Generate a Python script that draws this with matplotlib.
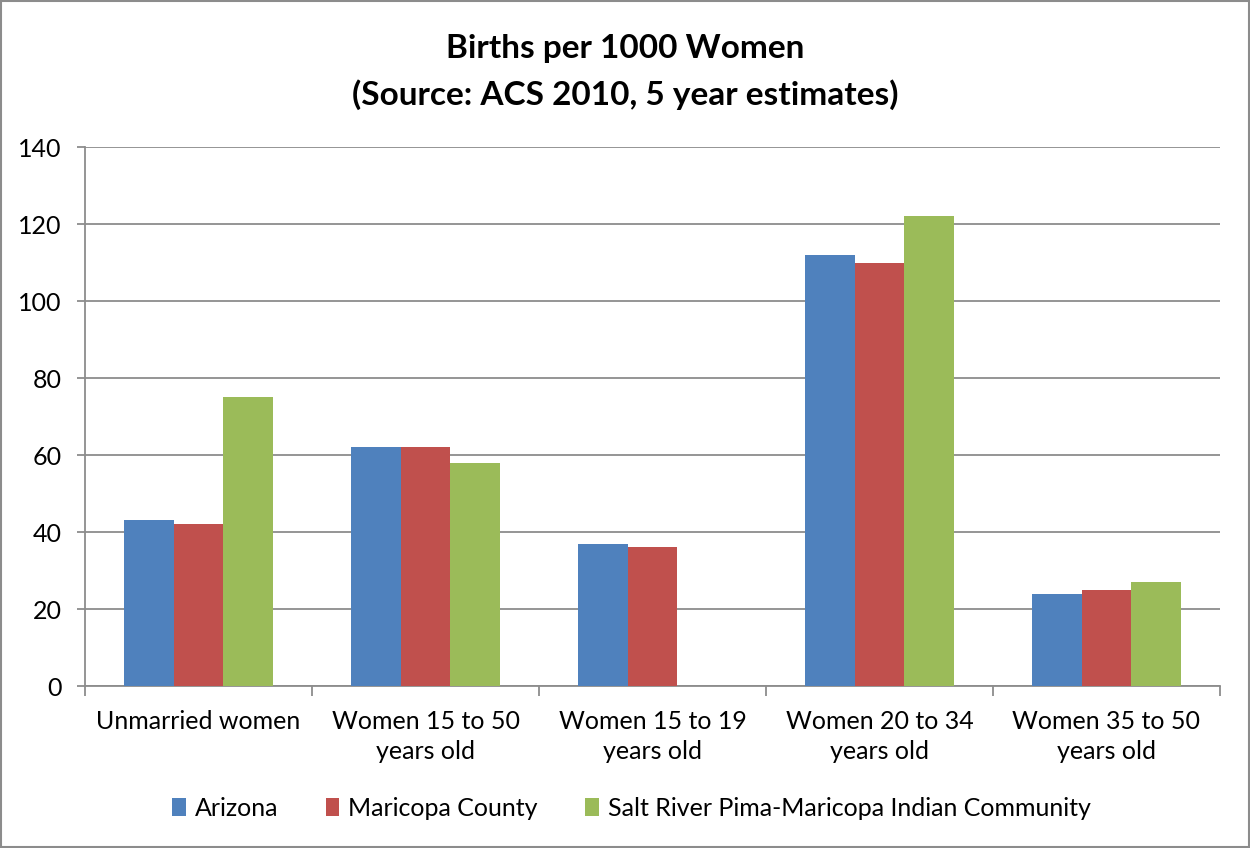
import matplotlib
matplotlib.use("Agg")
import matplotlib.pyplot as plt
import numpy as np
from matplotlib.patches import Rectangle

categories = ["Unmarried women", "Women 15 to 50\nyears old", "Women 15 to 19\nyears old",
              "Women 20 to 34\nyears old", "Women 35 to 50\nyears old"]
series_names = ["Arizona", "Maricopa County", "Salt River Pima-Maricopa Indian Community"]
arizona = [43, 62, 37, 112, 24]
maricopa = [42, 62, 36, 110, 25]
salt_river = [75, 58, 0, 122, 27]
colors = ["#4F81BD", "#C0504D", "#9BBB59"]

plt.rcParams['font.family'] = ['Lato', 'DejaVu Sans']

fig = plt.figure(figsize=(12.5, 8.48), dpi=100)
ax = fig.add_axes([0.068, 0.191, 0.908, 0.6356])

x = np.arange(len(categories))
w = 0.22
for i, (vals, name, c) in enumerate(zip([arizona, maricopa, salt_river], series_names, colors)):
    ax.bar(x + (i - 1) * w, vals, width=w, color=c, label=name, zorder=3)

ax.set_xlim(-0.5, len(categories) - 0.5)
ax.set_ylim(0, 140)
ax.set_yticks(range(0, 141, 20))
ax.yaxis.grid(True, color="#8C8C8C", linewidth=1.3, zorder=0)
ax.set_axisbelow(True)

ax.set_xticks(x)
ax.set_xticklabels(categories, fontsize=18, linespacing=1.38)
ax.tick_params(axis='x', length=0, pad=17)
ax.set_xticks(np.arange(-0.5, len(categories), 1), minor=True)
ax.tick_params(axis='x', which='minor', length=7, color="#8C8C8C", width=1.3)
ax.tick_params(axis='y', length=6, color="#8C8C8C", width=1.3, labelsize=18, pad=11)

for s in ['top', 'right']:
    ax.spines[s].set_visible(False)
for s in ['left', 'bottom']:
    ax.spines[s].set_color("#8C8C8C")
    ax.spines[s].set_linewidth(1.3)

fig.text(0.5, 0.943, "Births per 1000 Women", ha='center', va='center', fontsize=24, fontweight='bold')
fig.text(0.5, 0.888, "(Source: ACS 2010, 5 year estimates)", ha='center', va='center', fontsize=24, fontweight='bold')

leg = fig.legend(loc='center', bbox_to_anchor=(0.505, 0.047), ncol=3, frameon=False, fontsize=18,
                 handlelength=0.55, handleheight=0.75, handletextpad=0.35, columnspacing=1.9)

fig.patches.append(Rectangle((0.0008, 0.001), 0.9984, 0.998, transform=fig.transFigure,
                             fill=False, edgecolor="#8C8C8C", linewidth=1.5))

fig.savefig("out.png", dpi=100, facecolor="white")
